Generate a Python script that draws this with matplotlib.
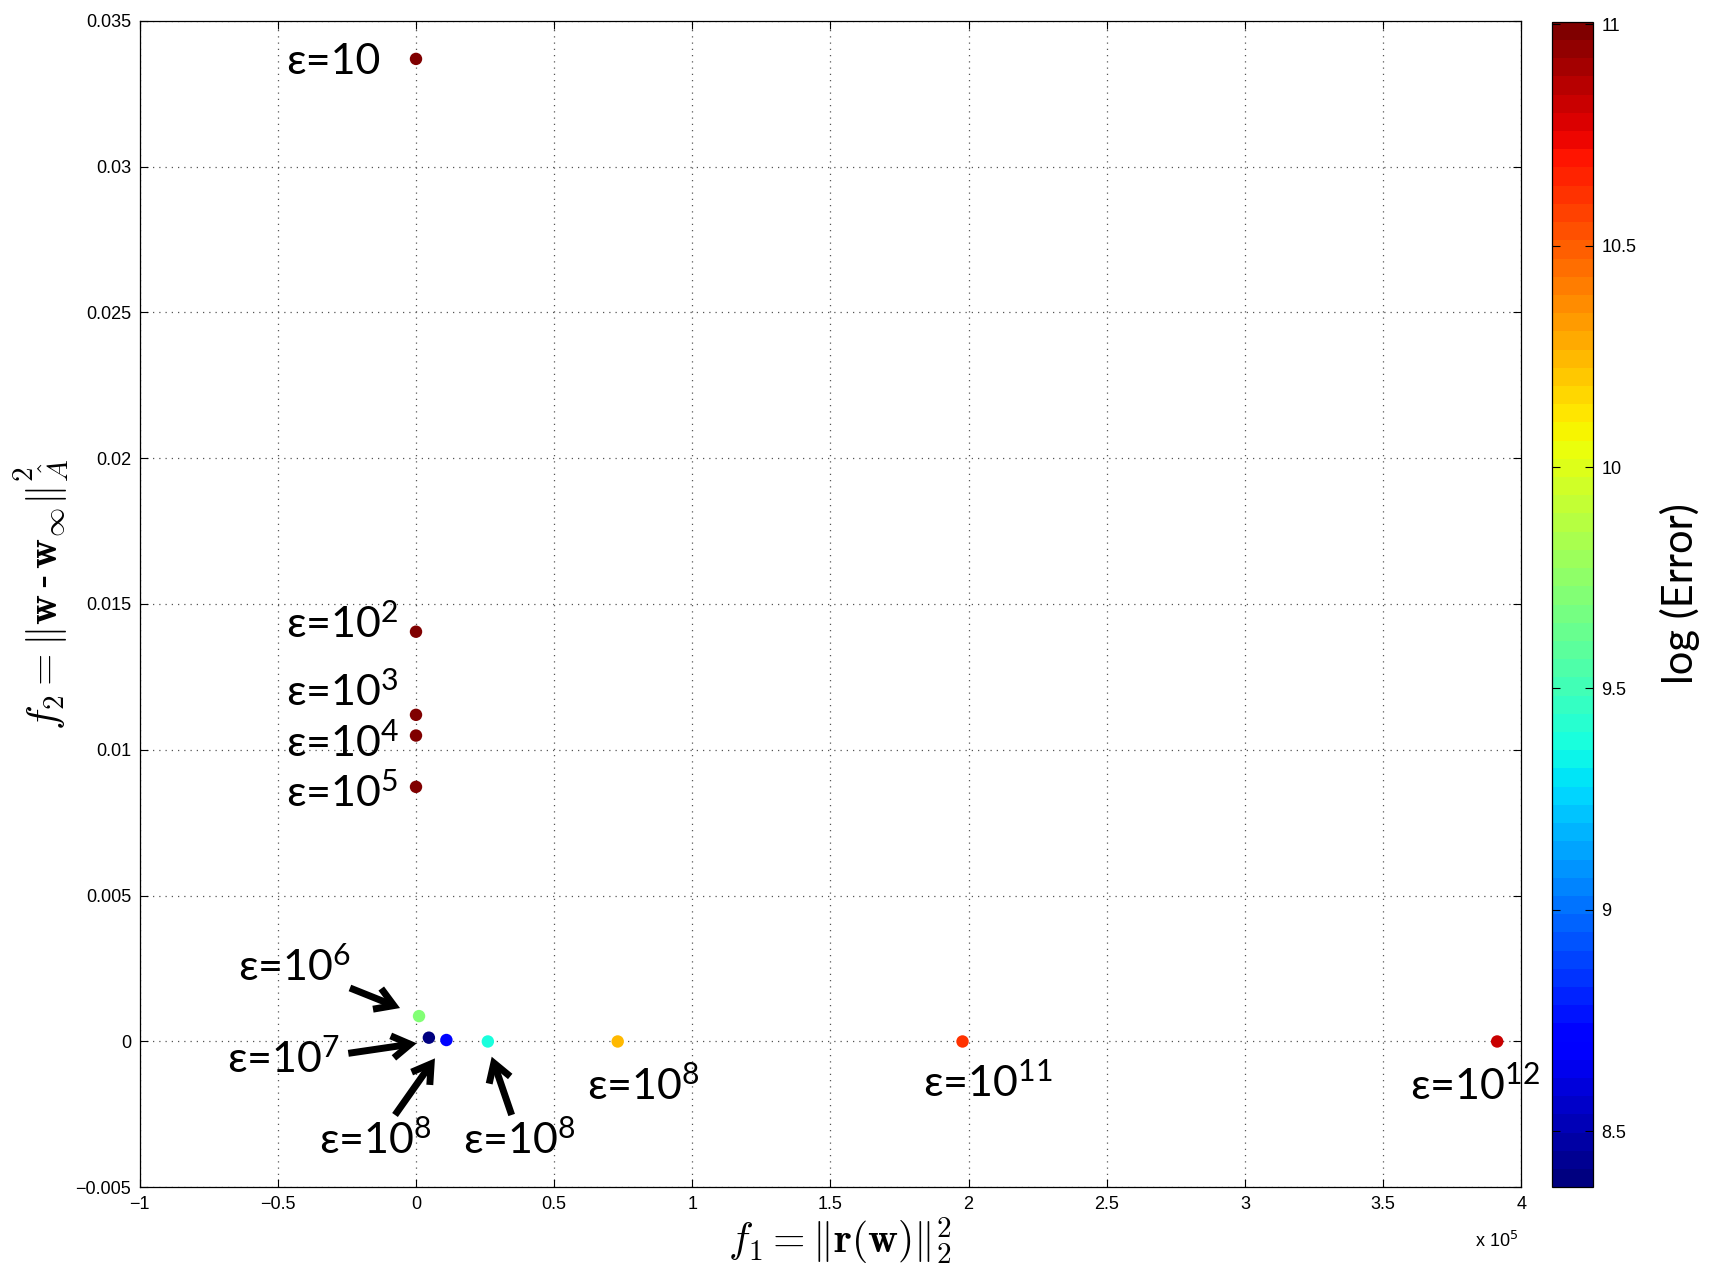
import matplotlib
matplotlib.use("Agg")
import matplotlib.pyplot as plt
from matplotlib.ticker import FuncFormatter
from matplotlib.font_manager import FontProperties

plt.rcParams['mathtext.fontset'] = 'custom'
plt.rcParams['mathtext.rm'] = 'Lato'
plt.rcParams['mathtext.it'] = 'Lato:italic'
plt.rcParams['mathtext.bf'] = 'Lato:bold'

# Pareto points: residual norm f1, weighted distance f2, log(Error) colour
f1 = [0, 0, 0, 0, 0, 1100, 4660, 11000, 26000, 73000, 197800, 391300]
f2 = [0.03369, 0.01405, 0.0112, 0.01049, 0.00873, 0.00087,
      0.00013, 0.00005, 0.0, 0.0, 0.0, 0.0]
log_err = [11.0, 11.0, 11.0, 11.0, 11.0, 9.69, 8.374, 8.72, 9.37, 10.24, 10.60, 10.81]

eps_labels = ['ε=10', 'ε=10$^{2}$', 'ε=10$^{3}$', 'ε=10$^{4}$', 'ε=10$^{5}$',
              'ε=10$^{6}$', 'ε=10$^{7}$', 'ε=10$^{8}$', 'ε=10$^{8}$',
              'ε=10$^{8}$', 'ε=10$^{11}$', 'ε=10$^{12}$']

xticks = [-1e5, -0.5e5, 0, 0.5e5, 1e5, 1.5e5, 2e5, 2.5e5, 3e5, 3.5e5, 4e5]
yticks = [-0.005, 0, 0.005, 0.01, 0.015, 0.02, 0.025, 0.03, 0.035]
cbar_ticks = [8.5, 9, 9.5, 10, 10.5, 11]


def fmt(v):
    s = '%g' % v
    return s.replace('-', '\u2212')


W, H = 1711, 1266
fig = plt.figure(figsize=(W / 100, H / 100), dpi=100)
ax = fig.add_axes([139.7 / W, 1 - 1187.3 / H, (1521.2 - 139.7) / W, (1187.3 - 20.7) / H])
cax = fig.add_axes([1551.7 / W, 1 - 1187.3 / H, (1593.2 - 1551.7) / W, (1187.3 - 21.8) / H])

cmap = plt.get_cmap('jet', 64)
sc = ax.scatter(f1, f2, c=log_err, cmap=cmap, vmin=min(log_err), vmax=11.005,
                s=80, edgecolors='none', zorder=3, clip_on=False)

ax.set_xlim(-1e5, 4e5)
ax.set_ylim(-0.005, 0.035)
ax.set_xticks(xticks)
ax.set_yticks(yticks)
ax.xaxis.set_major_formatter(FuncFormatter(lambda v, p: fmt(v / 1e5)))
ax.yaxis.set_major_formatter(FuncFormatter(lambda v, p: fmt(v)))
tick_font = 'Liberation Sans'
tick_size = 13
for lab in ax.get_xticklabels() + ax.get_yticklabels():
    lab.set_fontfamily(tick_font)
ax.tick_params(direction='in', top=True, right=True, length=6, width=0.8,
               labelsize=tick_size, pad=6)
ax.grid(True, linestyle=(0, (1, 4)), color='#555555', linewidth=0.9)
for sp in ax.spines.values():
    sp.set_linewidth(0.9)

# axis titles
cm_font = FontProperties(size=30, math_fontfamily='cm')
fig.text(840 / W, 1 - 1241.8 / H, r'$f_1 = \|\mathbf{r}(\mathbf{w})\|_2^2$',
         fontproperties=cm_font, ha='center', va='center')
fig.text(41.5 / W, 1 - 594.7 / H,
         r'$f_2 = \|\mathbf{w}\,$-$\,\mathbf{w}_\infty\|_{\hat{A}}^2$',
         fontproperties=FontProperties(size=30, math_fontfamily='cm', family='DejaVu Serif'),
         ha='center', va='center', rotation=90)
fig.text(1497 / W, 1 - 1240.7 / H, 'x 10$^{5}$', fontsize=tick_size, family=tick_font,
         ha='center', va='center', math_fontfamily='dejavusans')

# colorbar
cb = fig.colorbar(sc, cax=cax)
cb.set_ticks(cbar_ticks)
cb.ax.yaxis.set_major_formatter(FuncFormatter(lambda v, p: fmt(v)))
cb.ax.tick_params(direction='in', left=True, right=True, length=6, width=0.8,
                  labelsize=tick_size, pad=6)
for lab in cb.ax.get_yticklabels():
    lab.set_fontfamily(tick_font)
cb.outline.set_linewidth(0.9)
fig.text(1680 / W, 1 - 593.6 / H, 'log (Error)', fontsize=30,
         family=['Lato', 'DejaVu Sans'], rotation=90, ha='center', va='center')


def px_to_data(px, py):
    sx = 1711 / 1568
    X, Y = px * sx, py * sx
    xd = -1e5 + (X - 139.7) / (1521.2 - 139.7) * 5e5
    yd = 0.035 - (Y - 20.7) / (1187.3 - 20.7) * 0.04
    return xd, yd


# epsilon labels
label_pos = [(262, 57), (262, 572), (262, 634), (262, 681), (262, 727),
             (218, 886), (208, 970), (292, 1045), (424, 1045),
             (538, 995), (846, 992), (1292, 995)]
lab_font = dict(fontsize=31, family=['Lato', 'DejaVu Sans'], math_fontfamily='custom')
for txt, (px, py) in zip(eps_labels, label_pos):
    xd, yd = px_to_data(px, py)
    ax.text(xd, yd, txt, ha='left', va='center', clip_on=False, **lab_font)

# arrows pointing at the crowded points near the origin
arrows = [((320.7, 905.4), (366.6, 923.8)),
          ((319.2, 965.3), (381.9, 956.1)),
          ((362.0, 1021.8), (398.6, 969.9)),
          ((468.9, 1021.8), (450.6, 968.4))]
for tail, head in arrows:
    ax.annotate('', xy=px_to_data(*head), xytext=px_to_data(*tail),
                arrowprops=dict(arrowstyle='->,head_length=0.65,head_width=0.4',
                                mutation_scale=20, color='black', lw=5,
                                shrinkA=0, shrinkB=0,
                                joinstyle='miter', capstyle='butt'),
                annotation_clip=False)

fig.savefig('out.png', dpi=100)
